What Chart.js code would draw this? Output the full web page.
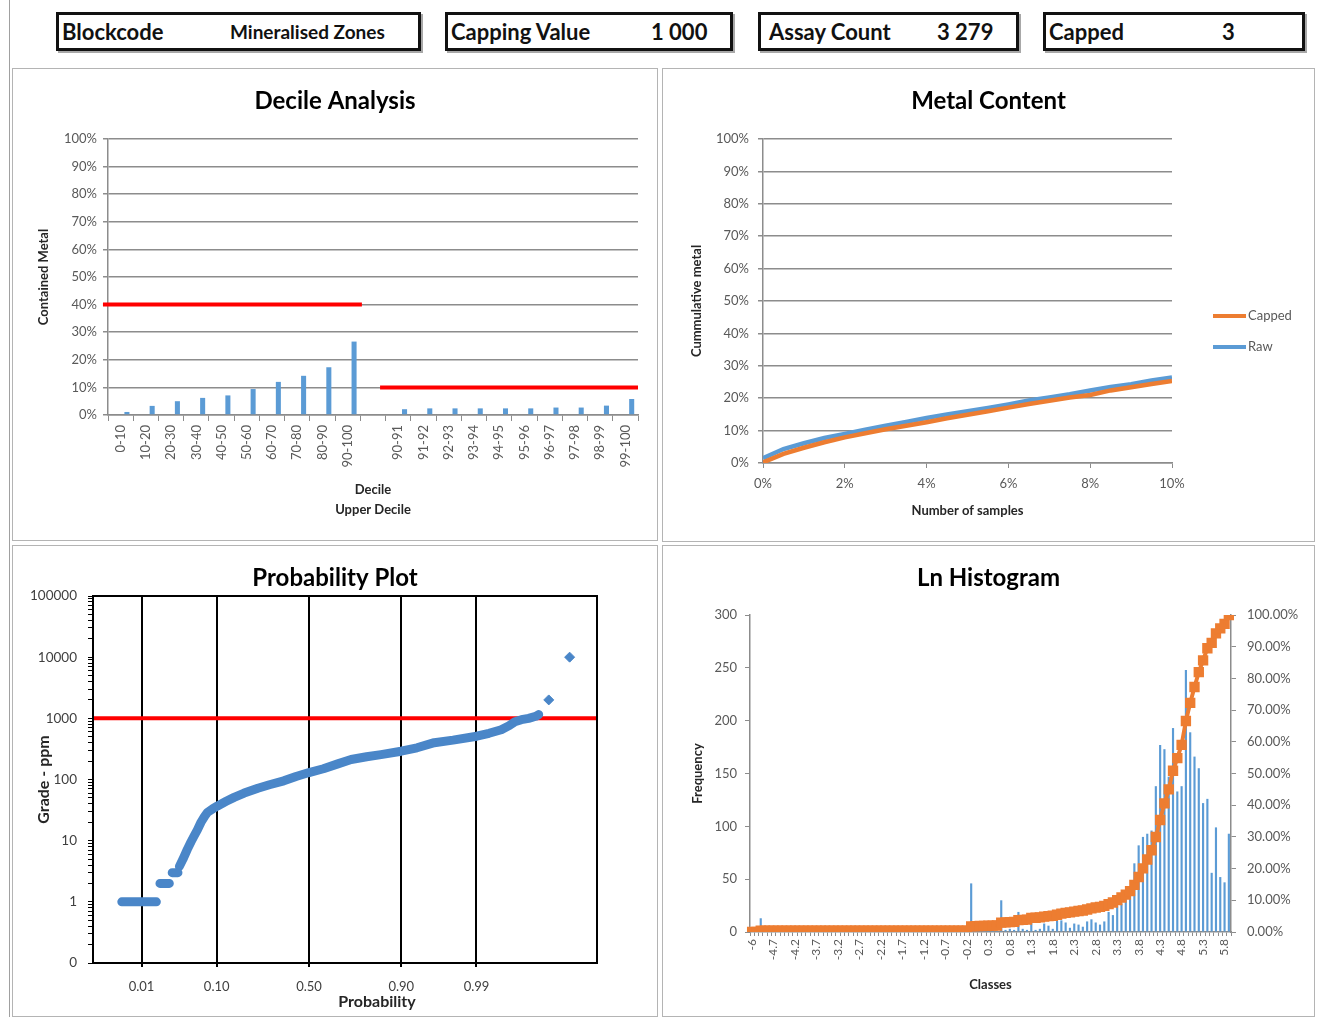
<!DOCTYPE html>
<html>
<head>
<meta charset="utf-8">
<title>Capping analysis - Mineralised Zones</title>
<script src="https://cdn.jsdelivr.net/npm/chart.js@4.4.1/dist/chart.umd.min.js"></script>
<style>
  html, body { margin: 0; padding: 0; background: #fff; }
  body { width: 1317px; height: 1017px; position: relative; overflow: hidden; font-family: Lato, "Open Sans", sans-serif; }
  .edge { position: absolute; left: 9px; top: 0; width: 1px; height: 1017px; background: #a0a0a0; }
  .stat { position: absolute; top: 12px; height: 33px; border: 3px solid #111; box-shadow: 2px 2px 0 #a8a8a8; background: #fff; }
  .stat span { position: absolute; top: 50%; transform: translateY(-52%); font-weight: 700; color: #111; white-space: nowrap; font-size: 22px; }
  .panel { position: absolute; border: 1.5px solid #b4b4b4; box-sizing: border-box; pointer-events: none; }
  canvas { position: absolute; }
</style>
</head>
<body>
<div class="edge"></div>

<div class="stat" style="left:56px;width:359px"><span style="left:3px">Blockcode</span><span style="left:171px;font-size:19px">Mineralised Zones</span></div>
<div class="stat" style="left:445px;width:282px"><span style="left:3px">Capping Value</span><span style="left:203px">1 000</span></div>
<div class="stat" style="left:758px;width:255px"><span style="left:8px">Assay Count</span><span style="left:176px">3 279</span></div>
<div class="stat" style="left:1043px;width:256px"><span style="left:3px">Capped</span><span style="left:176px">3</span></div>

<canvas id="decileChart" width="646" height="473" style="left:12px;top:68px"></canvas>
<canvas id="metalChart" width="653" height="474" style="left:662px;top:68px"></canvas>
<canvas id="probChart" width="646" height="472" style="left:12px;top:545px"></canvas>
<canvas id="histChart" width="653" height="472" style="left:662px;top:545px"></canvas>

<div class="panel" style="left:12px;top:68px;width:646px;height:473px"></div>
<div class="panel" style="left:662px;top:68px;width:653px;height:474px"></div>
<div class="panel" style="left:12px;top:545px;width:646px;height:472px"></div>
<div class="panel" style="left:662px;top:545px;width:653px;height:472px"></div>

<script>
// ---- Decile analysis (% of contained metal per decile / upper percentile)
const decileLabels = ['0-10', '10-20', '20-30', '30-40', '40-50', '50-60', '60-70', '70-80', '80-90', '90-100', '',
  '90-91', '91-92', '92-93', '93-94', '94-95', '95-96', '96-97', '97-98', '98-99', '99-100'];
const decileMetal = [1.1, 3.3, 5.0, 6.2, 7.1, 9.4, 12.0, 14.2, 17.3, 26.6, null,
  2.1, 2.4, 2.4, 2.4, 2.4, 2.4, 2.7, 2.7, 3.4, 5.8];
const decileLimit = 40;          // limit for any single decile
const upperDecileLimit = 10;     // limit for any single upper percentile
const decileLimitSpan = [-0.7, 9.56];   // in category units
const upperLimitSpan = [10.28, 20.5];

// ---- Metal content (top 10% of samples)
const sampleShare = [0, 0.5, 1, 1.5, 2, 2.5, 3, 3.5, 4, 4.5, 5, 5.5, 6, 6.5, 7, 7.5, 8, 8.5, 9, 9.5, 10];
const metalCapped = [0.2, 2.8, 4.7, 6.4, 7.9, 9.2, 10.4, 11.5, 12.6, 13.8, 14.9, 16.0, 17.1, 18.2, 19.2, 20.2, 21.0, 22.4, 23.4, 24.4, 25.3];
const metalRaw = [1.5, 4.3, 6.1, 7.7, 9.0, 10.3, 11.5, 12.7, 13.9, 15.0, 16.0, 17.0, 18.1, 19.3, 20.2, 21.2, 22.4, 23.5, 24.3, 25.5, 26.4];

// ---- Probability plot (normal score vs grade)
const probTicks = [-2.326, -1.282, 0, 1.282, 2.326];
const probTickLabels = ['0.01', '0.10', '0.50', '0.90', '0.99'];
const gradeTicks = [0.1, 1, 10, 100, 1000, 10000, 100000];
const gradeTickLabels = ['0', '1', '10', '100', '1000', '10000', '100000'];
const capValue = 1000;
// null grade = break between the detection-limit steps
const probScore = [-2.60, -2.45, -2.30, -2.12, -2.12,
  -2.07, -2.00, -1.94, -1.94,
  -1.90, -1.85, -1.82, -1.82,
  -1.80, -1.75, -1.69, -1.64, -1.60, -1.55, -1.50, -1.45, -1.41, -1.34, -1.27, -1.15, -1.04, -0.90,
  -0.71, -0.55, -0.35, -0.18, 0, 0.2, 0.4, 0.585, 0.8, 1.0, 1.28, 1.5, 1.74, 2.0, 2.33, 2.5, 2.67,
  2.78, 2.86, 2.95, 3.05, 3.15, 3.19];
const probGrade = [1, 1, 1, 1, null,
  2, 2, 2, null,
  3, 3, 3, null,
  3.8, 5, 7.2, 9.5, 11.7, 15, 20, 25, 29, 33, 37, 44, 51, 60,
  72, 82, 95, 112, 130, 150, 180, 212, 235, 255, 290, 330, 400, 440, 510, 570, 650,
  760, 880, 950, 1000, 1080, 1150];
const outlierScore = [3.33, 3.62];
const outlierGrade = [2000, 10000];

// ---- Ln histogram
const lnClasses = ['-6', '-5.1', '-5', '-4.9', '-4.8', '-4.7', '-4.6', '-4.5', '-4.4', '-4.3',
  '-4.2', '-4.1', '-4', '-3.9', '-3.8', '-3.7', '-3.6', '-3.5', '-3.4', '-3.3',
  '-3.2', '-3.1', '-3', '-2.9', '-2.8', '-2.7', '-2.6', '-2.5', '-2.4', '-2.3',
  '-2.2', '-2.1', '-2', '-1.9', '-1.8', '-1.7', '-1.6', '-1.5', '-1.4', '-1.3',
  '-1.2', '-1.1', '-1', '-0.9', '-0.8', '-0.7', '-0.6', '-0.5', '-0.4', '-0.3',
  '-0.2', '-0.1', '0', '0.1', '0.2', '0.3', '0.4', '0.5', '0.6', '0.7',
  '0.8', '0.9', '1', '1.1', '1.2', '1.3', '1.4', '1.5', '1.6', '1.7',
  '1.8', '1.9', '2', '2.1', '2.2', '2.3', '2.4', '2.5', '2.6', '2.7',
  '2.8', '2.9', '3', '3.1', '3.2', '3.3', '3.4', '3.5', '3.6', '3.7',
  '3.8', '3.9', '4', '4.1', '4.2', '4.3', '4.4', '4.5', '4.6', '4.7',
  '4.8', '4.9', '5', '5.1', '5.2', '5.3', '5.4', '5.5', '5.6', '5.7',
  '5.8', '5.9'];
const lnFrequency = [0, 0, 13, 0, 0, 0, 0, 0, 0, 0,
  0, 0, 0, 0, 0, 0, 0, 0, 0, 0,
  0, 0, 0, 0, 0, 0, 0, 0, 0, 0,
  0, 0, 0, 0, 0, 0, 0, 0, 0, 0,
  0, 0, 0, 0, 0, 0, 0, 0, 0, 0,
  0, 46, 2, 1, 2, 1, 2, 1, 30, 2,
  3, 2, 19, 3, 2, 18, 2, 3, 8, 6,
  3, 11, 11, 9, 4, 8, 7, 5, 10, 12,
  9, 7, 10, 19, 16, 25, 27, 31, 36, 65,
  82, 90, 93, 96, 138, 177, 173, 147, 193, 133,
  138, 248, 189, 166, 155, 122, 126, 56, 99, 52,
  47, 93];
const lnCumulative = [0, 0, 0.39, 0.39, 0.39, 0.39, 0.39, 0.39, 0.39, 0.39,
  0.39, 0.39, 0.39, 0.39, 0.39, 0.39, 0.39, 0.39, 0.39, 0.39,
  0.39, 0.39, 0.39, 0.39, 0.39, 0.39, 0.39, 0.39, 0.39, 0.39,
  0.39, 0.39, 0.39, 0.39, 0.39, 0.39, 0.39, 0.39, 0.39, 0.39,
  0.39, 0.39, 0.39, 0.39, 0.39, 0.39, 0.39, 0.39, 0.39, 0.39,
  0.39, 1.79, 1.85, 1.88, 1.94, 1.97, 2.03, 2.06, 2.97, 3.03,
  3.12, 3.18, 3.75, 3.84, 3.90, 4.45, 4.51, 4.60, 4.84, 5.02,
  5.11, 5.45, 5.78, 6.05, 6.17, 6.42, 6.63, 6.78, 7.08, 7.45,
  7.72, 7.93, 8.23, 8.81, 9.29, 10.05, 10.87, 11.80, 12.89, 14.86,
  17.34, 20.07, 22.88, 25.79, 29.96, 35.32, 40.56, 45.01, 50.85, 54.87,
  59.05, 66.56, 72.28, 77.30, 81.99, 85.68, 89.50, 91.19, 94.19, 95.76,
  97.18, 100];

const BLUE = '#5b9bd5';
const ORANGE = '#ed7d31';
const RED = '#ff0000';
const AXIS = '#8c8c8c';
const TICK_TEXT = '#595959';

Chart.defaults.font.family = 'Lato, "Open Sans", sans-serif';
Chart.defaults.font.size = 13;
Chart.defaults.color = TICK_TEXT;
Chart.defaults.animation = false;
Chart.defaults.responsive = false;
Chart.defaults.plugins.legend.display = false;
Chart.defaults.plugins.tooltip.enabled = false;

const fixWidth = w => scale => { scale.width = w; };
const fixHeight = h => scale => { scale.height = h; };

// empty axis on the right that only reserves room (keeps the title centred on the panel)
function spacer(w) {
  return {
    type: 'linear', axis: 'y', position: 'right', display: true,
    afterFit: fixWidth(w),
    grid: { display: false }, border: { display: false }, ticks: { display: false }
  };
}

function chartTitle(text, top, bottom) {
  return { display: true, text: text, color: '#000', font: { size: 24, weight: 'bold' }, padding: { top: top, bottom: bottom } };
}

function axisTitle(text, size, pad) {
  return { display: true, text: text, color: '#262626', font: { size: size, weight: 'bold' }, padding: pad };
}

// Decile Analysis
new Chart(document.getElementById('decileChart'), {
  type: 'bar',
  data: {
    labels: decileLabels,
    datasets: [
      {
        type: 'line',
        data: decileLimitSpan.map(x => ({ x: x, y: decileLimit })),
        xAxisID: 'xr',
        borderColor: RED,
        borderWidth: 4,
        pointRadius: 0,
        clip: false,
        order: 0
      },
      {
        type: 'line',
        data: upperLimitSpan.map(x => ({ x: x, y: upperDecileLimit })),
        xAxisID: 'xr',
        borderColor: RED,
        borderWidth: 4,
        pointRadius: 0,
        clip: false,
        order: 0
      },
      {
        data: decileMetal,
        backgroundColor: BLUE,
        barPercentage: 0.4,
        categoryPercentage: 1,
        order: 1
      }
    ]
  },
  options: {
    devicePixelRatio: 1,
    layout: { padding: 0 },
    plugins: { title: chartTitle('Decile Analysis', 18.6, 23.6) },
    scales: {
      x: {
        afterFit: fixHeight(126),
        grid: { drawOnChartArea: false, tickLength: 6, color: AXIS },
        border: { color: AXIS, width: 1.5 },
        ticks: { autoSkip: false, minRotation: 90, maxRotation: 90, padding: 4 },
        title: { display: true, text: ['Decile', 'Upper Decile'], color: '#262626',
          font: { size: 13, weight: 'bold', lineHeight: 1.55 }, padding: { top: 0, bottom: 21 } }
      },
      xr: { type: 'linear', axis: 'x', display: false, offset: false, min: -0.5, max: 20.5 },
      y: {
        min: 0, max: 100,
        afterFit: fixWidth(96),
        grid: { color: AXIS, lineWidth: 1.5, tickLength: 5 },
        border: { color: AXIS, width: 1.5 },
        ticks: { stepSize: 10, padding: 6, callback: v => v + '%' },
        title: axisTitle('Contained Metal', 13, { top: 24.2, bottom: 0 })
      },
      pad: spacer(20)
    }
  }
});

// Legend drawn to the right of the metal content plot
const sideLegend = {
  id: 'sideLegend',
  afterDraw(chart) {
    const ctx = chart.ctx;
    ctx.save();
    ctx.font = '13px Lato, "Open Sans", sans-serif';
    ctx.textBaseline = 'middle';
    chart.data.datasets.forEach((ds, i) => {
      const y = 248 + i * 31;
      ctx.strokeStyle = ds.borderColor;
      ctx.lineWidth = 4;
      ctx.beginPath();
      ctx.moveTo(551, y);
      ctx.lineTo(584, y);
      ctx.stroke();
      ctx.fillStyle = TICK_TEXT;
      ctx.fillText(ds.label, 586, y);
    });
    ctx.restore();
  }
};

// Metal Content
new Chart(document.getElementById('metalChart'), {
  type: 'line',
  data: {
    datasets: [
      {
        label: 'Capped',
        data: sampleShare.map((x, i) => ({ x: x, y: metalCapped[i] })),
        borderColor: ORANGE,
        borderWidth: 4.5,
        pointRadius: 0
      },
      {
        label: 'Raw',
        data: sampleShare.map((x, i) => ({ x: x, y: metalRaw[i] })),
        borderColor: BLUE,
        borderWidth: 4.5,
        pointRadius: 0
      }
    ]
  },
  options: {
    devicePixelRatio: 1,
    layout: { padding: 0 },
    plugins: { title: chartTitle('Metal Content', 18.6, 23.6) },
    scales: {
      x: {
        type: 'linear', min: 0, max: 10,
        afterFit: fixHeight(79),
        grid: { drawOnChartArea: false, tickLength: 5, color: AXIS },
        border: { color: AXIS, width: 1.5 },
        ticks: { stepSize: 2, padding: 8, callback: v => v + '%' },
        title: axisTitle('Number of samples', 13, { top: 0, bottom: 23.2 })
      },
      y: {
        min: 0, max: 100,
        afterFit: fixWidth(101),
        grid: { color: AXIS, lineWidth: 1.5, tickLength: 5 },
        border: { color: AXIS, width: 1.5 },
        ticks: { stepSize: 10, padding: 9, callback: v => v + '%' },
        title: axisTitle('Cummulative metal', 13, { top: 27.2, bottom: 0 })
      },
      pad: spacer(143)
    }
  },
  plugins: [sideLegend]
});

// Frame and axis caption of the probability plot
const probFrame = {
  id: 'probFrame',
  afterDraw(chart) {
    const ctx = chart.ctx;
    const a = chart.chartArea;
    ctx.save();
    ctx.strokeStyle = '#000';
    ctx.lineWidth = 2;
    ctx.strokeRect(a.left, a.top, a.right - a.left, a.bottom - a.top);
    ctx.fillStyle = '#262626';
    ctx.font = 'bold 16px Lato, "Open Sans", sans-serif';
    ctx.textAlign = 'center';
    ctx.textBaseline = 'middle';
    ctx.fillText('Probability', (a.left + a.right) / 2 + 32, a.bottom + 39);
    ctx.restore();
  }
};

const PROB_BLUE = '#4a86c8';

// Probability Plot
new Chart(document.getElementById('probChart'), {
  type: 'scatter',
  data: {
    datasets: [
      {
        data: probScore.map((x, i) => ({ x: x, y: probGrade[i] })),
        showLine: true,
        spanGaps: false,
        borderColor: PROB_BLUE,
        backgroundColor: PROB_BLUE,
        borderWidth: 9,
        borderCapStyle: 'round',
        borderJoinStyle: 'round',
        pointRadius: 0,
        order: 0
      },
      {
        data: outlierScore.map((x, i) => ({ x: x, y: outlierGrade[i] })),
        borderColor: PROB_BLUE,
        backgroundColor: PROB_BLUE,
        pointStyle: 'rectRot',
        pointRadius: 5,
        order: 0
      },
      {
        data: [{ x: -3, y: capValue }, { x: 4, y: capValue }],
        showLine: true,
        borderColor: RED,
        borderWidth: 4,
        pointRadius: 0,
        order: 1
      }
    ]
  },
  options: {
    devicePixelRatio: 1,
    layout: { padding: 0 },
    plugins: { title: chartTitle('Probability Plot', 18.6, 3.6) },
    scales: {
      x: {
        type: 'linear', min: -3, max: 4,
        afterFit: fixHeight(54),
        afterBuildTicks: scale => { scale.ticks = probTicks.map(v => ({ value: v })); },
        grid: { color: '#000', lineWidth: 2, tickLength: 4 },
        border: { color: '#000', width: 2 },
        ticks: { autoSkip: false, padding: 12, color: '#404040', callback: (v, i) => probTickLabels[i] }
      },
      y: {
        type: 'logarithmic', min: 0.1, max: 100000,
        afterFit: fixWidth(81),
        afterBuildTicks: scale => {
          const ticks = [];
          gradeTicks.forEach((v, i) => {
            ticks.push({ value: v });
            if (i < gradeTicks.length - 1) {
              for (let m = 2; m < 10; m++) ticks.push({ value: v * m });
            }
          });
          scale.ticks = ticks;
        },
        grid: { drawOnChartArea: false, tickLength: 5, color: '#000', lineWidth: 1 },
        border: { color: '#000', width: 2 },
        ticks: {
          autoSkip: false, padding: 11, color: '#404040', font: { size: 13.5 },
          callback: v => { const i = gradeTicks.indexOf(v); return i >= 0 ? gradeTickLabels[i] : ''; }
        },
        title: axisTitle('Grade - ppm', 16, { top: 22.4, bottom: 0 })
      },
      pad: spacer(61)
    }
  },
  plugins: [probFrame]
});

// Ln Histogram
new Chart(document.getElementById('histChart'), {
  type: 'bar',
  data: {
    labels: lnClasses,
    datasets: [
      {
        type: 'line',
        data: lnCumulative,
        yAxisID: 'y2',
        borderColor: ORANGE,
        backgroundColor: ORANGE,
        borderWidth: 4,
        pointStyle: 'rect',
        pointRadius: 4.5,
        order: 0
      },
      {
        data: lnFrequency,
        yAxisID: 'y',
        backgroundColor: BLUE,
        barPercentage: 0.5,
        categoryPercentage: 1,
        order: 1
      }
    ]
  },
  options: {
    devicePixelRatio: 1,
    layout: { padding: 0 },
    plugins: { title: chartTitle('Ln Histogram', 18.6, 22.6) },
    scales: {
      x: {
        afterFit: fixHeight(85),
        grid: { drawOnChartArea: false, tickLength: 4, color: AXIS },
        border: { color: AXIS, width: 1.5 },
        ticks: {
          autoSkip: false, minRotation: 90, maxRotation: 90, padding: 3, font: { size: 12 },
          callback: (v, i) => (i % 5 === 0 ? lnClasses[i] : '')
        },
        title: axisTitle('Classes', 13, { top: 0, bottom: 24.2 })
      },
      y: {
        position: 'left', min: 0, max: 300,
        afterFit: fixWidth(88),
        grid: { drawOnChartArea: false, tickLength: 5, color: AXIS },
        border: { color: AXIS, width: 1.5 },
        ticks: { stepSize: 50, padding: 8 },
        title: axisTitle('Frequency', 13, { top: 28.2, bottom: 0 })
      },
      y2: {
        position: 'right', min: 0, max: 100,
        afterFit: fixWidth(84),
        grid: { drawOnChartArea: false, tickLength: 5, color: AXIS },
        border: { color: AXIS, width: 1.5 },
        ticks: { stepSize: 10, padding: 11, callback: v => v.toFixed(2) + '%' }
      }
    }
  }
});
</script>
</body>
</html>
